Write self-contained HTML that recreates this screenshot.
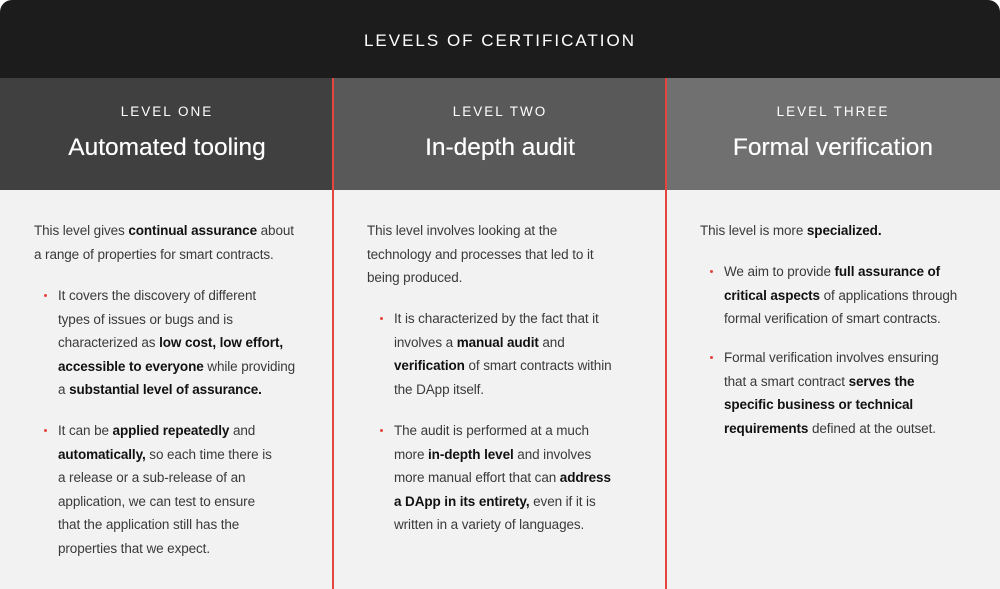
<!DOCTYPE html>
<html><head><meta charset="utf-8"><style>
*{margin:0;padding:0;box-sizing:border-box}
body{width:1000px;height:589px;background:#fff;font-family:"Liberation Sans",sans-serif;overflow:hidden;position:relative}
#wrap{position:absolute;left:0;top:0;width:1000px;height:589px;border-radius:12px 12px 0 0;overflow:hidden;background:#f2f2f2}
.top{position:absolute;left:0;top:0;width:1000px;height:78px;background:#1c1c1c;color:#fff;text-align:center;font-size:17px;letter-spacing:2px;line-height:81px}
.hd{position:absolute;top:78px;height:112px;width:334px;color:#fff;text-align:center}
.hd .lv{position:absolute;top:26px;width:100%;font-size:13.5px;letter-spacing:2px}
.hd .tt{position:absolute;top:56px;width:100%;font-size:24.5px;text-shadow:0 0 0.4px #fff}
.sep{position:absolute;top:78px;width:2px;height:511px;background:#e5453c}
.blk{position:absolute;font-size:13.5px;line-height:23.5px;color:#3a3a3a;white-space:nowrap;letter-spacing:-0.1px}
.blk b{color:#111}
.bul::before{content:"";position:absolute;left:-14px;top:10px;width:3px;height:3px;border-radius:50%;background:#e5453c}
</style></head><body>
<div id="wrap">
<div class="top">LEVELS OF CERTIFICATION</div>
<div class="hd" style="left:0;background:#404040"><div class="lv">LEVEL ONE</div><div class="tt">Automated tooling</div></div>
<div class="hd" style="left:333px;background:#595959"><div class="lv">LEVEL TWO</div><div class="tt">In-depth audit</div></div>
<div class="hd" style="left:666px;background:#707070"><div class="lv">LEVEL THREE</div><div class="tt">Formal verification</div></div>
<div class="sep" style="left:332px"></div>
<div class="sep" style="left:665px"></div>

<div class="blk" style="left:34px;top:219px">This level gives <b>continual assurance</b> about<br>a range of properties for smart contracts.</div>
<div class="blk bul" style="left:58px;top:284px">It covers the discovery of different<br>types of issues or bugs and is<br>characterized as <b>low cost, low effort,</b><br><b>accessible to everyone</b> while providing<br>a <b>substantial level of assurance.</b></div>
<div class="blk bul" style="left:58px;top:419px">It can be <b>applied repeatedly</b> and<br><b>automatically,</b> so each time there is<br>a release or a sub-release of an<br>application, we can test to ensure<br>that the application still has the<br>properties that we expect.</div>

<div class="blk" style="left:367px;top:219px">This level involves looking at the<br>technology and processes that led to it<br>being produced.</div>
<div class="blk bul" style="left:394px;top:307px">It is characterized by the fact that it<br>involves a <b>manual audit</b> and<br><b>verification</b> of smart contracts within<br>the DApp itself.</div>
<div class="blk bul" style="left:394px;top:419px">The audit is performed at a much<br>more <b>in-depth level</b> and involves<br>more manual effort that can <b>address</b><br><b>a DApp in its entirety,</b> even if it is<br>written in a variety of languages.</div>

<div class="blk" style="left:700px;top:219px">This level is more <b>specialized.</b></div>
<div class="blk bul" style="left:724px;top:260px">We aim to provide <b>full assurance of</b><br><b>critical aspects</b> of applications through<br>formal verification of smart contracts.</div>
<div class="blk bul" style="left:724px;top:346px">Formal verification involves ensuring<br>that a smart contract <b>serves the</b><br><b>specific business or technical</b><br><b>requirements</b> defined at the outset.</div>
</div>
</body></html>
